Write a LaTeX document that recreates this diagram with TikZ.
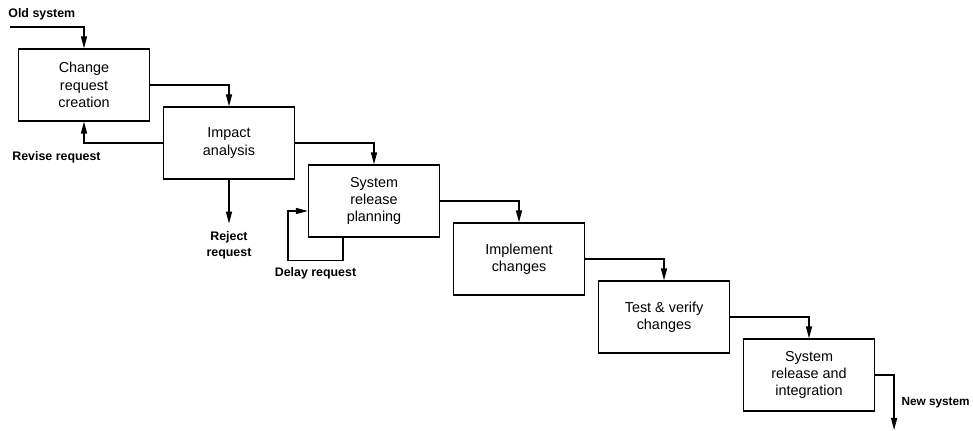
\documentclass[tikz,border=0pt]{standalone}
\usepackage{fontspec}
\setmainfont{Liberation Sans}
\usetikzlibrary{arrows.meta, positioning}

\begin{document}
\begin{tikzpicture}[
  node distance=-7.6pt and 6.4pt,   % each step sits down and right of the last
  >={Triangle[length=6pt, width=3pt]},
  font=\fontsize{7.2}{8.6}\selectfont,
  box/.style={draw, line width=0.6pt, minimum width=65.5pt, minimum height=36pt, align=center, inner sep=1pt},
  lbl/.style={font=\fontsize{6.2}{7.6}\selectfont\bfseries, align=center, inner sep=1pt},
  arrow/.style={->, line width=0.7pt}
]
\useasboundingbox (0,0) rectangle (486.5pt,-215.5pt);

% Process steps
\node[box] (req) at (42pt,-42.5pt) {Change\\request\\creation};
\node[box, below right=of req] (impact) {Impact\\analysis};
\node[box, below right=of impact] (plan) {System\\release\\planning};
\node[box, below right=of plan] (impl) {Implement\\changes};
\node[box, below right=of impl] (test) {Test \& verify\\changes};
\node[box, below right=of test] (integ) {System\\release and\\integration};

% Input and output
\coordinate (old) at (5pt,-13.5pt);
\node[lbl, anchor=base west] (oldlbl) at (3pt,-8.6pt) {Old system};
\draw[arrow] (old) -| (req.north);

\draw[arrow] (integ.east) -- ++(9.5pt,0) coordinate (ns) -- ++(0,-27.5pt);
\node[lbl, font=\fontsize{5.9}{7}\selectfont\bfseries, inner sep=0.5pt, anchor=base west]
  (nslbl) at ([xshift=3pt]ns |- 0,-203pt) {New system};

% Forward arrows
\draw[arrow] (req.east) -| (impact.north);
\draw[arrow] (impact.east) -| (plan.north);
\draw[arrow] (plan.east) -| (impl.north);
\draw[arrow] (impl.east) -| (test.north);
\draw[arrow] (test.east) -| (integ.north);

% Feedback and exits
\draw[arrow] (impact.west) -| (req.south);
\node[lbl, anchor=base west] (revlbl) at (5pt,-80.5pt) {Revise request};

\draw[arrow] (impact.south) -- ++(0,-22pt) coordinate (rej);
\node[lbl, below=3pt of rej] (rejlbl) {Reject\\request};

\draw[arrow] ([xshift=-15.5pt]plan.south) -- ++(0,-11.5pt) -- ++(-13.75pt,0) coordinate (dl)
  -- ++(-13.75pt,0) |- ([yshift=-5pt]plan.west);
\node[lbl, below=2.5pt of dl] (dellbl) {Delay request};

\end{tikzpicture}
\end{document}
